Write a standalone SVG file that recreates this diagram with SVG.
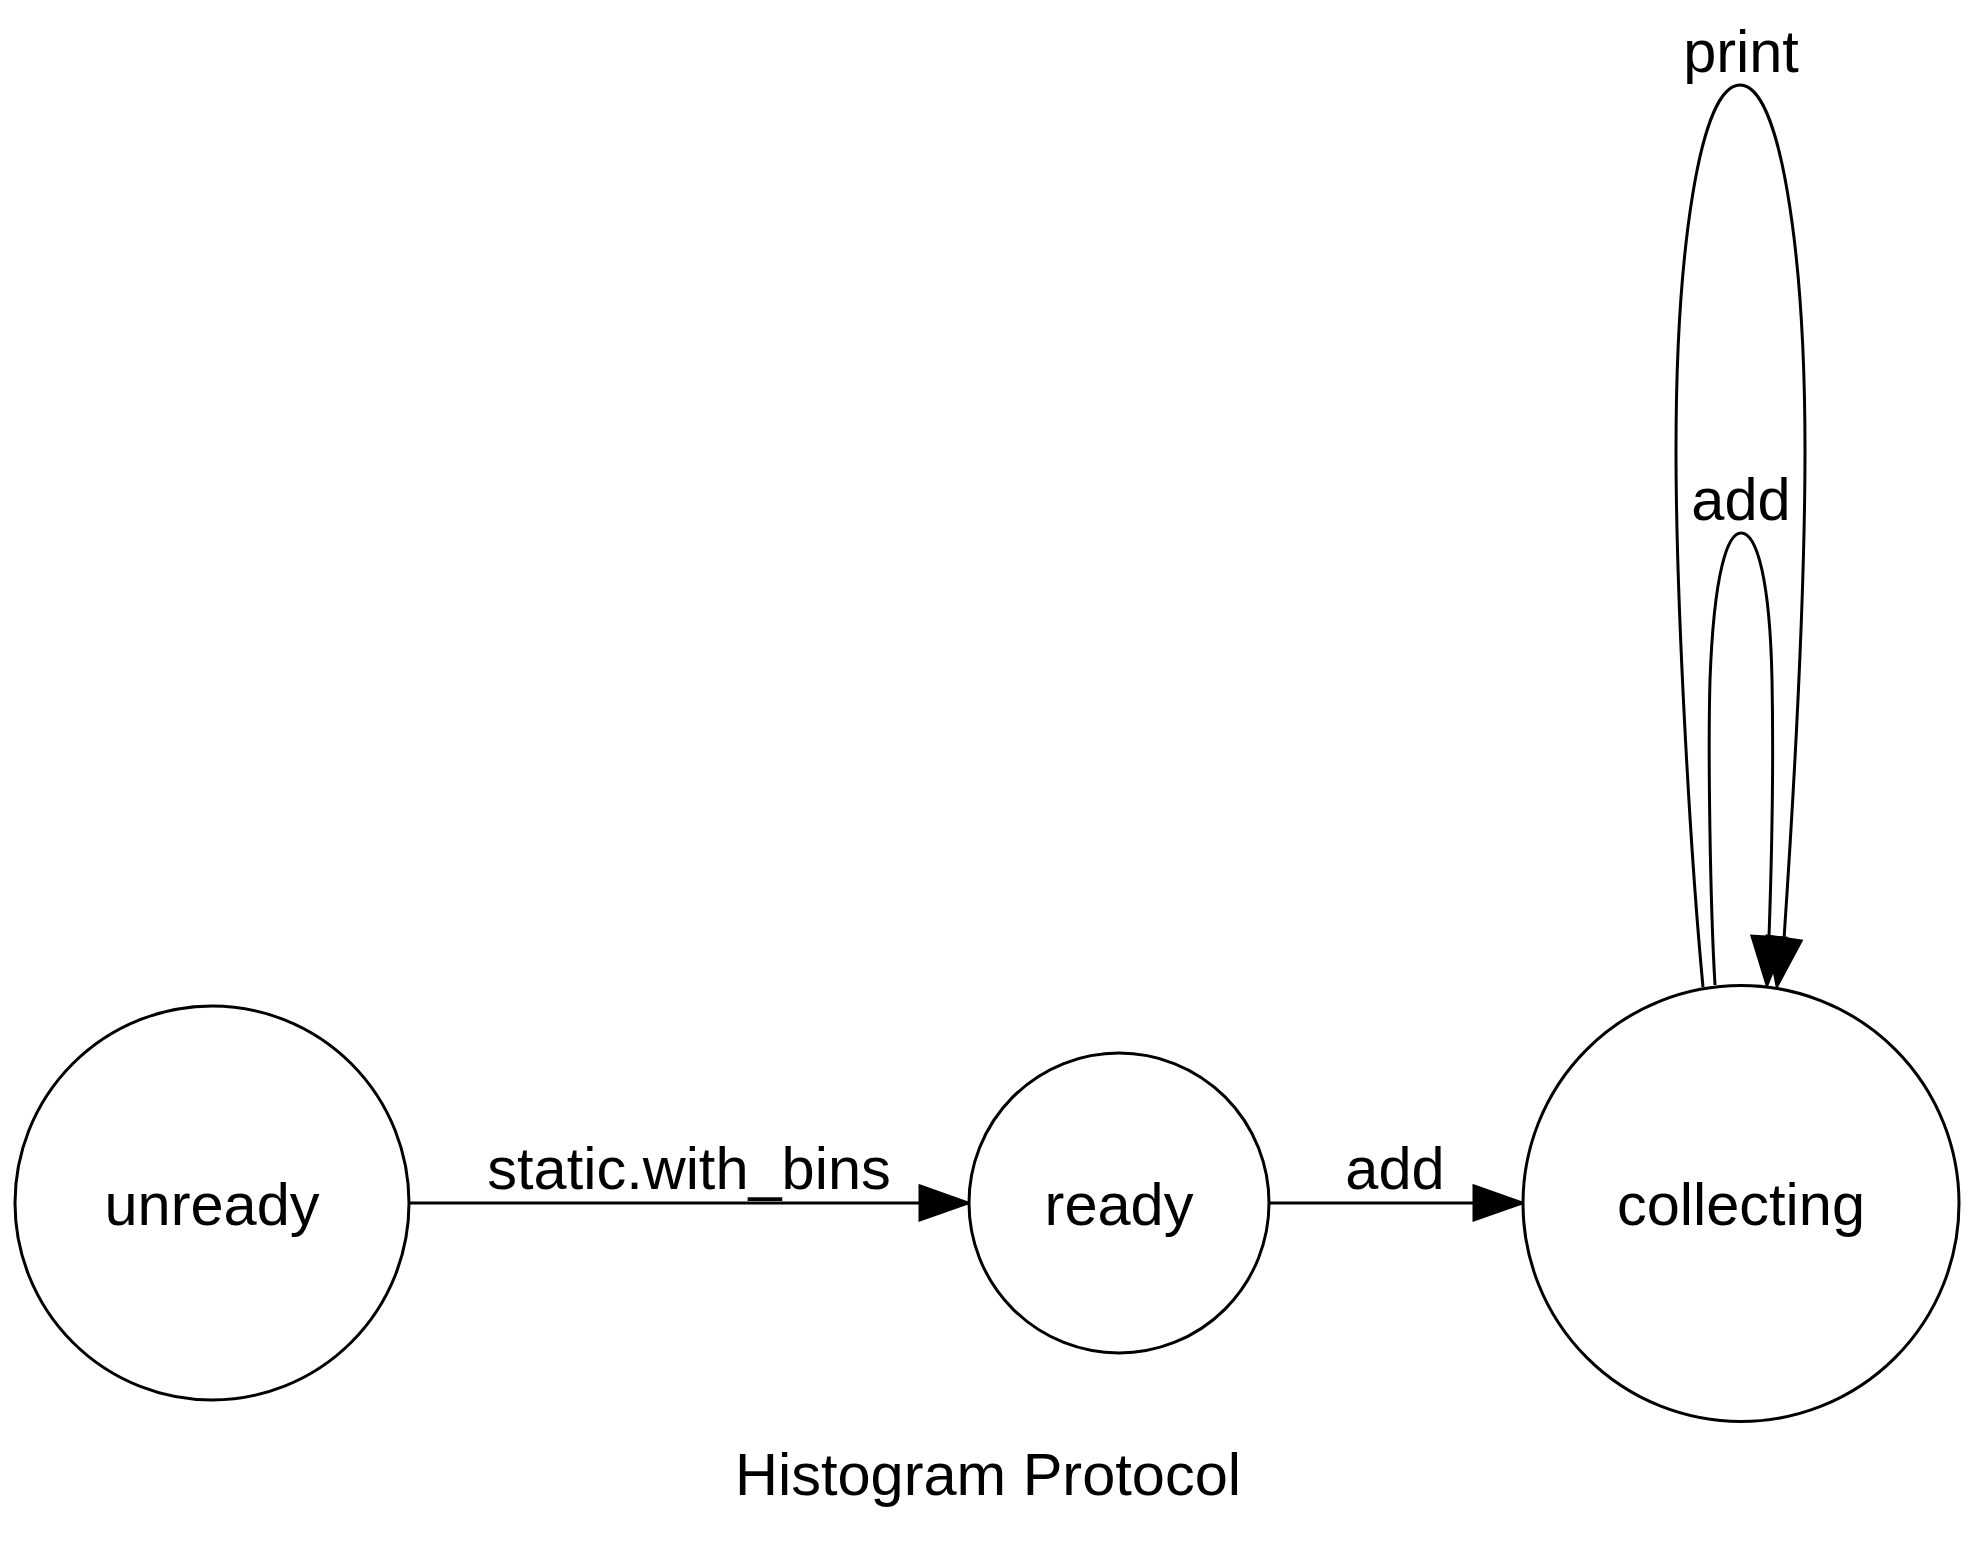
<svg xmlns="http://www.w3.org/2000/svg" width="1976" height="1541" viewBox="0 0 1976 1541">
<style>
.node{fill:#fff;stroke:#000;stroke-width:3}
.edge{fill:none;stroke:#000;stroke-width:3}
.head{fill:#000;stroke:#000;stroke-width:3}
text{font-family:"Liberation Sans",Arial,sans-serif;font-size:59.5px;fill:#000;text-anchor:middle}
</style>
<rect width="1976" height="1541" fill="#fff"/>
<g id="connectors">
<g id="e-unready-ready">
<path class="edge" d="M409,1203 L920,1203"/>
<polygon class="head" points="920,1186 968,1203 920,1220"/>
<text x="689" y="1189">static.with_bins</text>
</g>
<g id="e-ready-collecting">
<path class="edge" d="M1269,1203 L1474,1203"/>
<polygon class="head" points="1474,1186 1522,1203 1474,1220"/>
<text x="1395" y="1189">add</text>
</g>
<g id="e-collecting-print">
<path class="edge" d="M1703,987 C1690,850 1676,600 1676,450 C1676,250 1700,85 1740,85 C1780,85 1805,250 1805,450 C1805,600 1792,820 1784,939"/>
<polygon class="head" points="1801,941 1777,986 1767.4,936"/>
<text x="1741" y="72">print</text>
</g>
<g id="e-collecting-add">
<path class="edge" d="M1715,985 C1710,900 1708,750 1710,680 C1714,570 1728,533 1741,533 C1757,533 1770,580 1772,680 C1774,780 1771,880 1769,937"/>
<polygon class="head" points="1786,938 1767,985 1752,936"/>
<text x="1741" y="520">add</text>
</g>
</g>
<g id="node-unready">
<circle class="node" cx="212" cy="1203" r="197"/>
<text x="212" y="1224.5">unready</text>
</g>
<g id="node-ready">
<circle class="node" cx="1119" cy="1203" r="150"/>
<text x="1119" y="1224.5">ready</text>
</g>
<g id="node-collecting">
<circle class="node" cx="1741" cy="1203.5" r="218"/>
<text x="1741" y="1224.5">collecting</text>
</g>
<text id="title" x="988" y="1495">Histogram Protocol</text>
</svg>
